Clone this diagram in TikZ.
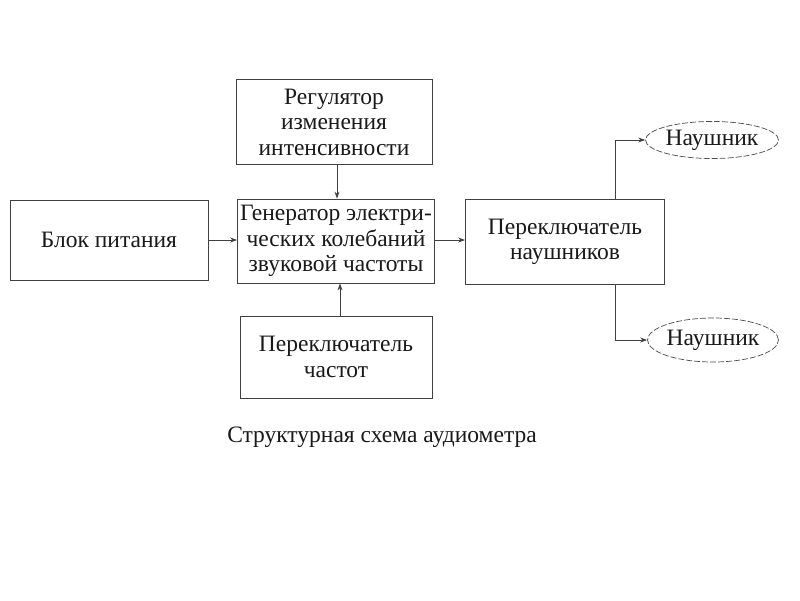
\documentclass[tikz,border=0pt]{standalone}
\usepackage{fontspec}
\setmainfont{Liberation Serif}
\usetikzlibrary{arrows.meta,positioning,shapes.geometric}
\begin{document}
\begin{tikzpicture}[x=1pt,y=-1pt,
  blk/.style={draw=black!75, line width=0.8pt, align=center, inner sep=0pt, font=\fontsize{23.5}{25.5}\selectfont, text=black!90},
  ell/.style={draw=black!70, dashed, dash pattern=on 6pt off 2pt, line width=0.7pt, ellipse, font=\fontsize{23.5}{25}\selectfont, text=black!90, inner sep=0pt},
  conn/.style={draw=black!75, line width=0.8pt, -{Stealth[length=7pt,width=5pt]}}]
\fill[white] (0,0) rectangle (800,600);
\useasboundingbox (0,0) rectangle (800,600);
\node[blk, minimum width=198pt, minimum height=80pt] (power) at (109,240) {Блок питания};
\node[blk, minimum width=196pt, minimum height=85pt] (reg) at (334,122) {Регулятор\\изменения\\интенсивности};
\node[blk, minimum width=197pt, minimum height=84pt] (gen) at (336,241) {Генератор электри-\\ческих колебаний\\звуковой частоты};
\node[blk, minimum width=192pt, minimum height=82pt] (freq) at (336,357) {Переключатель\\частот};
\node[blk, minimum width=199pt, minimum height=85pt] (sw) at (565,242) {Переключатель\\наушников};
\node[ell, minimum width=133pt, minimum height=37pt] (ph1) at (712,140) {Наушник};
\node[ell, minimum width=130pt, minimum height=44pt] (ph2) at (713,340) {Наушник};
\node[font=\fontsize{23.5}{25}\selectfont, text=black!90] (cap) at (382,437) {Структурная схема аудиометра};
\draw[conn] (power.east |- 0,240) -- (gen.west |- 0,240);
\draw[conn] (gen.east |- 0,240) -- (sw.west |- 0,240);
\draw[conn] (reg.south -| 337,0) -- (gen.north -| 337,0);
\draw[conn] (freq.north -| 340,0) -- (gen.south -| 340,0);
\draw[conn] (sw.north -| 615,0) |- (ph1.west);
\draw[conn] (sw.south -| 615,0) |- (ph2.west);
\end{tikzpicture}
\end{document}
